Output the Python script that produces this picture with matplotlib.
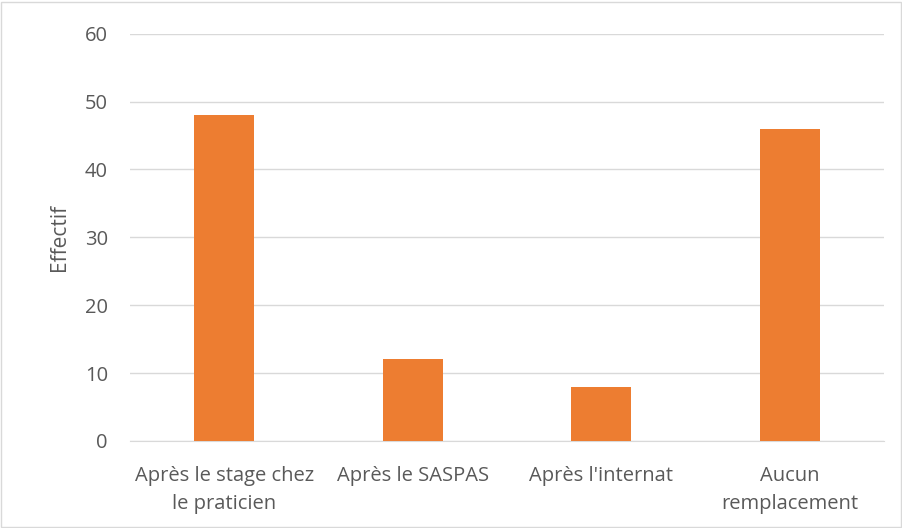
import matplotlib
matplotlib.use("Agg")
import matplotlib.pyplot as plt
from matplotlib.patches import Rectangle

# Données
categories = ["Après le stage chez\nle praticien", "Après le SASPAS", "Après l'internat", "Aucun\nremplacement"]
effectifs = [48, 12, 8, 46]
yticks = [0, 10, 20, 30, 40, 50, 60]

plt.rcParams['font.family'] = ['Open Sans', 'DejaVu Sans']

fig = plt.figure(figsize=(9.03, 5.28), dpi=100)
ax = fig.add_axes([0.144, 0.165, 0.835, 0.771])

x = range(len(categories))
ax.bar(x, effectifs, width=0.32, color='#ED7D31', zorder=3)

ax.set_ylim(0, 60)
ax.set_xlim(-0.5, len(categories) - 0.5)
ax.set_yticks(yticks)
ax.set_yticklabels([str(t) for t in yticks], color='#595959', fontsize=14.5)
ax.set_xticks(list(x))
ax.set_xticklabels(categories, color='#595959', fontsize=14.5, linespacing=1.55)
ax.tick_params(axis='y', length=0, pad=16)
ax.tick_params(axis='x', length=0, pad=18)
ax.grid(axis='y', color='#D9D9D9', linewidth=1, zorder=0)

for s in ['top', 'right', 'left']:
    ax.spines[s].set_visible(False)
ax.spines['bottom'].set_color('#D9D9D9')

ax.set_ylabel("Effectif", color='#595959', fontsize=15)
ax.yaxis.set_label_coords(-0.08, 0.5)

# cadre autour de la figure
fig.patches.append(Rectangle((0.001, 0.002), 0.997, 0.995, transform=fig.transFigure,
                             fill=False, edgecolor='#D9D9D9', linewidth=1))

fig.savefig("out.png", dpi=100)
